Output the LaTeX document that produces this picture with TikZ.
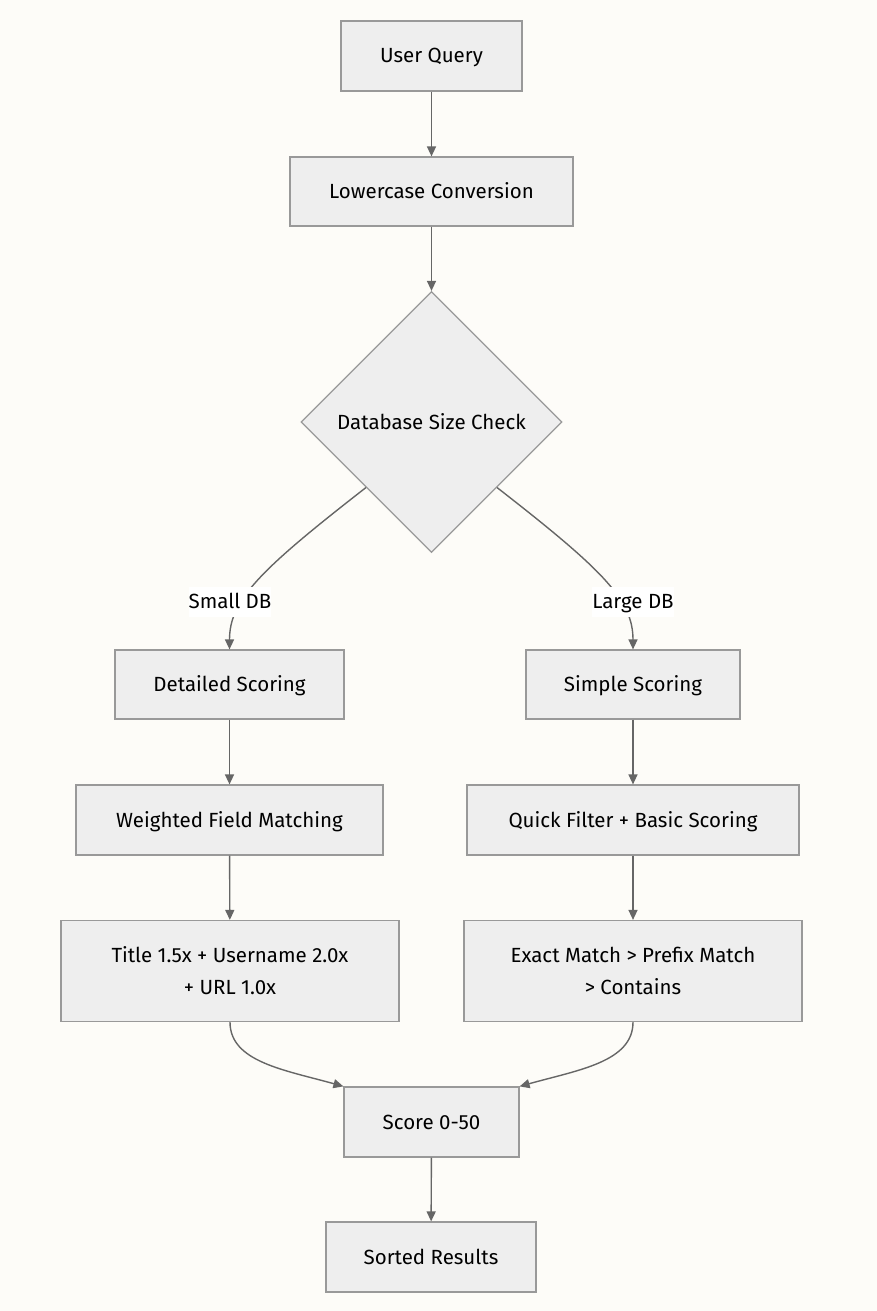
\documentclass[tikz,border=0pt]{standalone}
\usepackage{fontspec}
\setmainfont{Fira Sans}
\usetikzlibrary{shapes.geometric,arrows.meta}
\definecolor{bgc}{RGB}{253,252,248}
\definecolor{boxfill}{RGB}{238,238,238}
\definecolor{boxline}{RGB}{153,153,153}
\definecolor{linec}{RGB}{102,102,102}
\tikzset{
  box/.style={draw=boxline,fill=boxfill,line width=1.2pt,rectangle,inner sep=0pt,align=center,font=\fontsize{20.5}{32}\selectfont},
  one/.style={text height=17pt,text depth=3pt},
  dia/.style={draw=boxline,fill=boxfill,line width=1.2pt,diamond,aspect=1,inner sep=0pt,minimum size=261pt,text height=17pt,text depth=3pt,font=\fontsize{20.5}{32}\selectfont},
  conn/.style={draw=linec,line width=1.4pt,-{Triangle[length=10pt,width=9pt]}},
  elabel/.style={fill=white,inner sep=0pt,minimum width=82pt,minimum height=30pt,text height=17pt,text depth=3pt,font=\fontsize{20.5}{24}\selectfont}
}
\begin{document}
\begin{tikzpicture}[x=1pt,y=-1pt]
\fill[bgc] (0,0) rectangle (877,1311);
\useasboundingbox (0,0) rectangle (877,1311);
\node[box,one,minimum width=181pt,minimum height=70pt] (uq) at (431.5,56) {User Query};
\node[box,one,minimum width=283pt,minimum height=69pt] (lc) at (431.5,191.5) {Lowercase Conversion};
\node[dia] (db) at (431.5,422) {Database Size Check};
\node[box,one,minimum width=229pt,minimum height=69pt] (ds) at (229.5,684.5) {Detailed Scoring};
\node[box,one,minimum width=214pt,minimum height=69pt] (ss) at (633,684.5) {Simple Scoring};
\node[box,one,minimum width=307pt,minimum height=70pt] (wf) at (229.5,820) {Weighted Field Matching};
\node[box,one,minimum width=332pt,minimum height=70pt] (qf) at (633,820) {Quick Filter + Basic Scoring};
\node[box,minimum width=338pt,minimum height=101pt] (tt) at (230,971) {Title 1.5x + Username 2.0x\\+ URL 1.0x};
\node[box,minimum width=338pt,minimum height=101pt] (em) at (633,971) {Exact Match > Prefix Match\\> Contains};
\node[box,one,minimum width=175pt,minimum height=70pt] (sc) at (431.5,1122) {Score 0-50};
\node[box,one,minimum width=210pt,minimum height=70pt] (sr) at (431,1257) {Sorted Results};
\draw[conn] (uq) -- (lc);
\draw[conn] (lc) -- (db);
\draw[conn] (db.south west) .. controls (260,570) and (229.5,600) .. (ds.north);
\draw[conn] (db.south east) .. controls (603,570) and (633,600) .. (ss.north);
\node[elabel] (lsmall) at (230,601.5) {Small DB};
\node[elabel] (llarge) at (633,601.5) {Large DB};
\draw[conn] (ds) -- (wf);
\draw[conn] (ss) -- (qf);
\draw[conn] (wf) -- (tt);
\draw[conn] (qf) -- (em);
\draw[conn] (tt.south) .. controls (230,1062) and (285,1070) .. (sc.north west);
\draw[conn] (em.south) .. controls (633,1062) and (578,1070) .. (sc.north east);
\draw[conn] (sc) -- (sr);
\end{tikzpicture}
\end{document}
